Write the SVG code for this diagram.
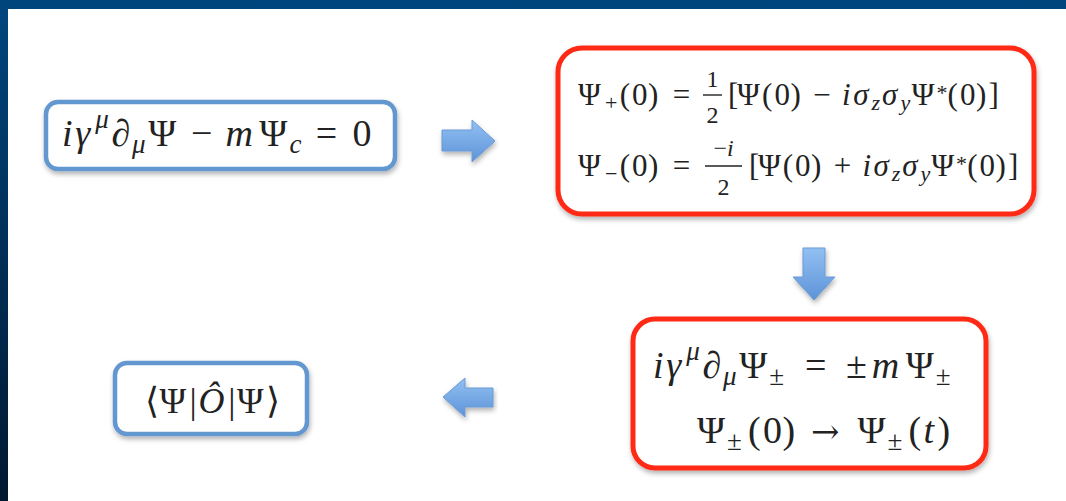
<svg xmlns="http://www.w3.org/2000/svg" width="1066" height="501" viewBox="0 0 1066 501">
<style>
.bb{fill:#fff;stroke:#6497cf;stroke-width:4.5}
.rb{fill:#fff;stroke:#ff2a14;stroke-width:5}
.ar{stroke:#6a9ad6;stroke-width:1}
.bar{stroke:#222;stroke-width:1.4}
</style>
<defs>
<linearGradient id="fg" x1="0" y1="0" x2="0" y2="1">
<stop offset="0" stop-color="#00467e"/>
<stop offset="1" stop-color="#001830"/>
</linearGradient>
<linearGradient id="ag" x1="0" y1="0" x2="0" y2="1">
<stop offset="0" stop-color="#92c0f2"/>
<stop offset="1" stop-color="#5d93d8"/>
</linearGradient>
<filter id="sh" x="-10%" y="-10%" width="120%" height="130%">
<feDropShadow dx="1" dy="3" stdDeviation="2.5" flood-color="#000" flood-opacity="0.3"/>
</filter>
</defs>
<rect x="0" y="0" width="1066" height="501" fill="url(#fg)"/>
<rect x="8" y="9" width="1058" height="492" fill="#fff"/>

<g id="connectors">
<path class="ar" fill="url(#ag)" filter="url(#sh)" d="M442,130 H472 V120 L495,141 L472,162 V151 H442 Z"/>
<path class="ar" fill="url(#ag)" filter="url(#sh)" d="M803,248 H825 V277 H835 L814,300 L793,277 H803 Z"/>
<path class="ar" fill="url(#ag)" filter="url(#sh)" d="M493,388 H465 V378 L443,397 L465,417 V407 H493 Z"/>
</g>

<g id="dirac" fill="#222">
<rect class="bb" filter="url(#sh)" x="46" y="102" width="349" height="67" rx="12"/>
<text font-family="Liberation Serif" y="146" font-size="38"><tspan x="62" font-style="italic">i</tspan><tspan x="75.3" font-style="italic">γ</tspan><tspan x="95.3" y="128" font-size="27" font-style="italic">μ</tspan><tspan x="111.5" y="146" font-style="italic">∂</tspan><tspan x="132" y="153" font-size="27" font-style="italic">μ</tspan><tspan x="148.2" y="146">Ψ</tspan><tspan x="190.9">−</tspan><tspan x="225.4" font-style="italic">m</tspan><tspan x="259.3">Ψ</tspan><tspan x="289.4" y="153" font-size="27" font-style="italic">c</tspan><tspan x="315.8" y="146">=</tspan><tspan x="352.4">0</tspan></text>
</g>

<g id="decomp" fill="#222">
<rect class="rb" filter="url(#sh)" x="558" y="48" width="476" height="166" rx="24"/>
<text font-family="Liberation Serif" y="105" font-size="31"><tspan x="578">Ψ</tspan><tspan x="605.1" y="110" font-size="22">+</tspan><tspan x="619.8" y="105">(</tspan><tspan x="632.1">0</tspan><tspan x="648">)</tspan><tspan x="672.7">=</tspan></text>
<text font-family="Liberation Serif" x="712.5" y="87" font-size="24" text-anchor="middle">1</text>
<line class="bar" x1="703" y1="95" x2="722" y2="95"/>
<text font-family="Liberation Serif" x="712.5" y="123" font-size="24" text-anchor="middle">2</text>
<text font-family="Liberation Serif" y="105" font-size="31"><tspan x="728">[</tspan><tspan x="736.9">Ψ</tspan><tspan x="761.9">(</tspan><tspan x="774.4">0</tspan><tspan x="790.4">)</tspan><tspan x="813.3">−</tspan><tspan x="842.1" font-style="italic">i</tspan><tspan x="853.2" font-style="italic">σ</tspan><tspan x="871.6" y="110" font-size="22" font-style="italic">z</tspan><tspan x="882.1" y="105" font-style="italic">σ</tspan><tspan x="900.5" y="110" font-size="22" font-style="italic">y</tspan><tspan x="911.4" y="105">Ψ</tspan><tspan x="936.4" y="100" font-size="22">*</tspan><tspan x="947.6" y="105">(</tspan><tspan x="960.1">0</tspan><tspan x="976.1">)</tspan><tspan x="988.6">]</tspan></text>

<text font-family="Liberation Serif" y="176" font-size="31"><tspan x="578">Ψ</tspan><tspan x="605.1" y="181" font-size="22">−</tspan><tspan x="619.8" y="176">(</tspan><tspan x="632.1">0</tspan><tspan x="648">)</tspan><tspan x="672.7">=</tspan></text>
<text font-family="Liberation Serif" x="723.5" y="156" font-size="24" text-anchor="middle">−<tspan font-style="italic">i</tspan></text>
<line class="bar" x1="705" y1="166" x2="742" y2="166"/>
<text font-family="Liberation Serif" x="723.5" y="195" font-size="24" text-anchor="middle">2</text>
<text font-family="Liberation Serif" y="176" font-size="31"><tspan x="749">[</tspan><tspan x="757.9">Ψ</tspan><tspan x="782.7">(</tspan><tspan x="795.1">0</tspan><tspan x="811">)</tspan><tspan x="833.8">+</tspan><tspan x="862.4" font-style="italic">i</tspan><tspan x="873.4" font-style="italic">σ</tspan><tspan x="891.7" y="181" font-size="22" font-style="italic">z</tspan><tspan x="902.2" y="176" font-style="italic">σ</tspan><tspan x="920.4" y="181" font-size="22" font-style="italic">y</tspan><tspan x="931.2" y="176">Ψ</tspan><tspan x="956.1" y="171" font-size="22">*</tspan><tspan x="967.2" y="176">(</tspan><tspan x="979.6">0</tspan><tspan x="995.6">)</tspan><tspan x="1008">]</tspan></text>
</g>

<g id="evolve" fill="#222">
<rect class="rb" filter="url(#sh)" x="633" y="319" width="353" height="149" rx="22"/>
<text font-family="Liberation Serif" y="378" font-size="38"><tspan x="653" font-style="italic">i</tspan><tspan x="666.3" font-style="italic">γ</tspan><tspan x="686.3" y="360" font-size="27" font-style="italic">μ</tspan><tspan x="702.5" y="378" font-style="italic">∂</tspan><tspan x="723" y="385" font-size="27" font-style="italic">μ</tspan><tspan x="739.2" y="378">Ψ</tspan><tspan x="769.3" y="385" font-size="27">±</tspan><tspan x="805.1" y="378">=</tspan><tspan x="845.9">±</tspan><tspan x="871.8" font-style="italic">m</tspan><tspan x="905.7">Ψ</tspan><tspan x="935.7" y="385" font-size="27">±</tspan></text>
<text font-family="Liberation Serif" y="443" font-size="38"><tspan x="697">Ψ</tspan><tspan x="727" y="450" font-size="27">±</tspan><tspan x="748.1" y="443">(</tspan><tspan x="763.1">0</tspan><tspan x="782.4">)</tspan><tspan x="811" font-family="DejaVu Serif" font-size="34">→</tspan><tspan x="857.5">Ψ</tspan><tspan x="887.5" y="450" font-size="27">±</tspan><tspan x="908.5" y="443">(</tspan><tspan x="923.5" font-style="italic">t</tspan><tspan x="937.5">)</tspan></text>
</g>

<g id="expect" fill="#222">
<rect class="bb" filter="url(#sh)" x="115" y="363" width="192" height="71" rx="12"/>
<text font-family="Liberation Serif" y="413" font-size="36"><tspan x="145">⟨</tspan><tspan x="159.4">Ψ</tspan><tspan x="189.6">|</tspan><tspan x="198.5" font-style="italic">Ô</tspan><tspan x="228.2">|</tspan><tspan x="237">Ψ</tspan><tspan x="265.8">⟩</tspan></text>
</g>
</svg>
